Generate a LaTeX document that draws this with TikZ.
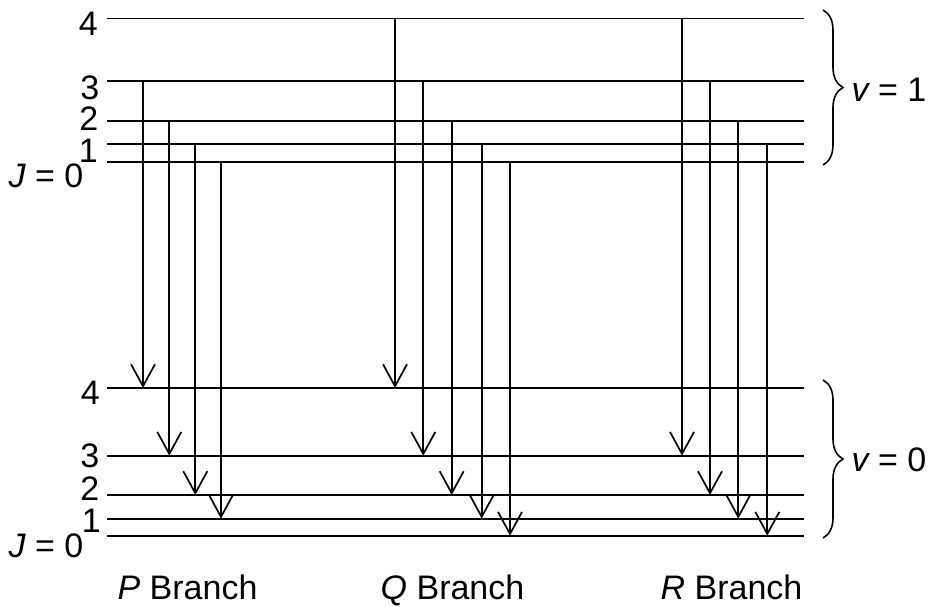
\documentclass[tikz,border=0pt]{standalone}
\usepackage{fontspec}
\setmainfont{Liberation Sans}
\usetikzlibrary{arrows.meta,decorations.pathreplacing}
\begin{document}
\begin{tikzpicture}[x=1pt,y=-1pt,
  level/.style={line width=1.7pt},
  trans/.style={line width=1.7pt,-{Straight Barb[length=22pt,width=24pt,line width=1.7pt]}},
  lbl/.style={font=\fontsize{34}{38}\selectfont, inner sep=0pt},
  brc/.style={decorate, decoration={brace,amplitude=20pt}, line width=1.6pt}]
\useasboundingbox (0,0) rectangle (930,607);
% upper levels (v=1)
\foreach \n/\y in {4/18.5,3/81,2/120.7,1/144.3,0/162.3}{
  \coordinate (u\n) at (0,\y);
  \draw[level] (107,\y) -- (804,\y);
}
% lower levels (v=0)
\foreach \n/\y in {4/388,3/455.7,2/495,1/518.7,0/535.7}{
  \coordinate (l\n) at (0,\y);
  \draw[level] (107,\y) -- (804,\y);
}
% J labels upper
\node[lbl,anchor=east] (ua4) at (98,24) {4};
\node[lbl,anchor=east] (ua3) at (99.5,88) {3};
\node[lbl,anchor=east] (ua2) at (98.5,118.5) {2};
\node[lbl,anchor=east] (ua1) at (98,151) {1};
\node[lbl,anchor=east] (ua0) at (83.5,175.5) {\itshape J\upshape\ = 0};
% J labels lower
\node[lbl,anchor=east] (la4) at (100,393) {4};
\node[lbl,anchor=east] (la3) at (99.5,456) {3};
\node[lbl,anchor=east] (la2) at (99.5,489) {2};
\node[lbl,anchor=east] (la1) at (101,521) {1};
\node[lbl,anchor=east] (la0) at (83.5,545.5) {\itshape J\upshape\ = 0};
% P branch
\draw[trans] ([xshift=143pt]u3) -- ([xshift=143pt]l4);
\draw[trans] ([xshift=169.3pt]u2) -- ([xshift=169.3pt]l3);
\draw[trans] ([xshift=195.3pt]u1) -- ([xshift=195.3pt]l2);
\draw[trans] ([xshift=221pt]u0) -- ([xshift=221pt]l1);
% Q branch
\draw[trans] ([xshift=395pt]u4) -- ([xshift=395pt]l4);
\draw[trans] ([xshift=423.3pt]u3) -- ([xshift=423.3pt]l3);
\draw[trans] ([xshift=451.7pt]u2) -- ([xshift=451.7pt]l2);
\draw[trans] ([xshift=481.7pt]u1) -- ([xshift=481.7pt]l1);
\draw[trans] ([xshift=510pt]u0) -- ([xshift=510pt]l0);
% R branch
\draw[trans] ([xshift=682pt]u4) -- ([xshift=682pt]l3);
\draw[trans] ([xshift=710pt]u3) -- ([xshift=710pt]l2);
\draw[trans] ([xshift=738.3pt]u2) -- ([xshift=738.3pt]l1);
\draw[trans] ([xshift=767.3pt]u1) -- ([xshift=767.3pt]l0);
% braces
\coordinate (b1a) at (823,10);
\coordinate (b1b) at (823,165);
\coordinate (b0a) at (823,380);
\coordinate (b0b) at (823,538);
\draw[brc] (b1a) -- (b1b);
\draw[brc] (b0a) -- (b0b);
\node[lbl] (v1) at (889,90) {\itshape v\upshape\ = 1};
\node[lbl] (v0) at (889,460) {\itshape v\upshape\ = 0};
% branch labels
\node[lbl,anchor=base] (pb) at (187.5,599) {\itshape P\upshape\ Branch};
\node[lbl,anchor=base] (qb) at (452.5,599) {\itshape Q\upshape\ Branch};
\node[lbl,anchor=base] (rb) at (731.5,599) {\itshape R\upshape\ Branch};
\end{tikzpicture}
\end{document}
